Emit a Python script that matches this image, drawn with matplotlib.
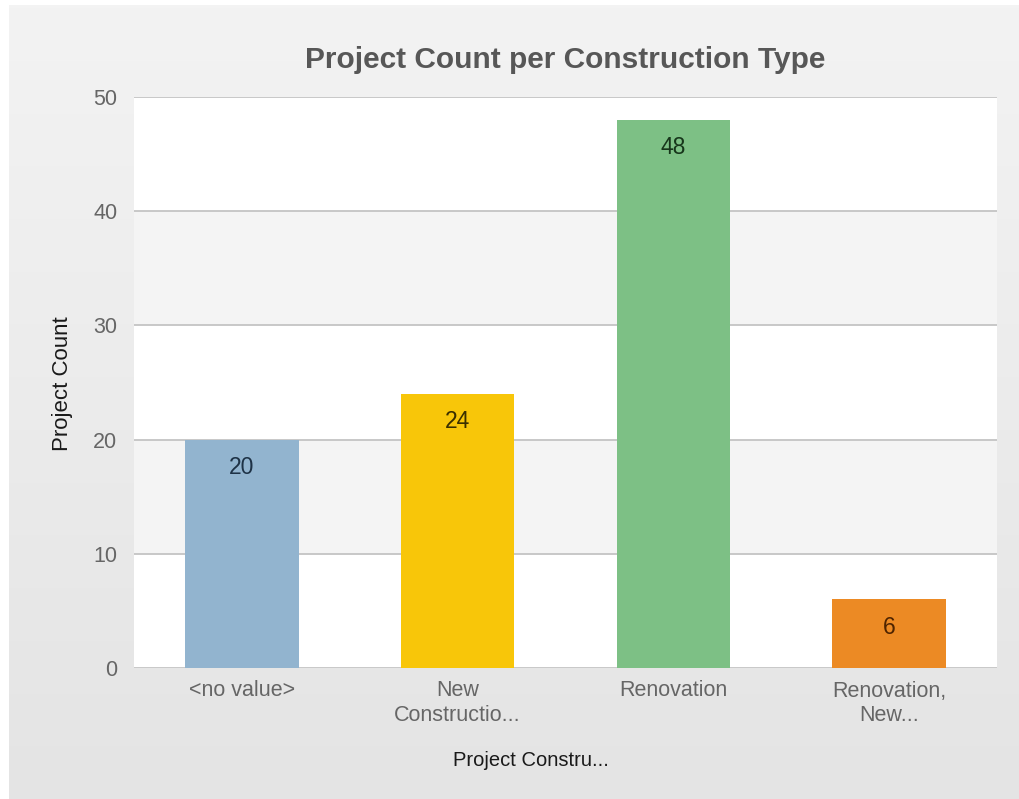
import numpy as np
import matplotlib
matplotlib.use("Agg")
import matplotlib.pyplot as plt
from matplotlib.colors import LinearSegmentedColormap

categories = ["<no value>", "New\nConstructio...", "Renovation", "Renovation,\nNew..."]
counts = [20, 24, 48, 6]
bar_colors = ["#92b4cf", "#f8c609", "#7dc085", "#ec8a24"]
label_colors = ["#1e3246", "#3a2f00", "#17361b", "#4f2400"]
yticks = [0, 10, 20, 30, 40, 50]
title = "Project Count per Construction Type"
xlabel = "Project Constru..."
ylabel = "Project Count"

plt.rcParams['font.family'] = ['Liberation Sans', 'DejaVu Sans']

W, H = 1020, 799
fig = plt.figure(figsize=(W / 100, H / 100), dpi=100)
fig.patch.set_facecolor("white")

# background panel with vertical gradient
bg = fig.add_axes([9 / W, 0, (W - 9) / W, (H - 5) / H], zorder=-5)
grad = np.linspace(0, 1, 256).reshape(-1, 1)
cmap = LinearSegmentedColormap.from_list("g", ["#f3f3f3", "#e4e4e4"])
bg.imshow(grad, aspect="auto", cmap=cmap, extent=[0, 1, 0, 1], origin="upper")
bg.set_axis_off()

left, right, top, bottom = 134, 997, 97, 668
ax = fig.add_axes([left / W, (H - bottom) / H, (right - left) / W, (bottom - top) / H])
ax.set_facecolor("white")
ax.set_xlim(-0.5, len(categories) - 0.5)
ax.set_ylim(0, 50)

for lo in (10, 30):
    ax.axhspan(lo, lo + 10, color="#f4f4f4", zorder=0, lw=0)
for t in yticks:
    ax.axhline(t, color="#c4c4c4", lw=1.3, zorder=1)

x = np.arange(len(categories))
ax.bar(x, counts, width=0.525, color=bar_colors, zorder=2)
for xi, v, c in zip(x, counts, label_colors):
    ax.annotate(str(v), (xi, v), xytext=(0, -28), textcoords="offset pixels",
                ha="center", va="center", fontsize=16.5, color=c, zorder=3)

for s in ax.spines.values():
    s.set_visible(False)
ax.set_yticks(yticks)
ax.set_yticklabels([str(t) for t in yticks])
ax.set_xticks(x)
ax.set_xticklabels(categories, linespacing=1.2)
ax.tick_params(axis="both", length=0, labelsize=15.5, labelcolor="#666666")
ax.tick_params(axis="y", pad=12)
ax.tick_params(axis="x", pad=9)

fig.text(565 / W, 1 - 60 / H, title, ha="center", va="center",
         fontsize=21.5, fontweight="bold", color="#575757")
fig.text(63 / W, 1 - 384 / H, ylabel, ha="center", va="center", rotation=90,
         fontsize=16, color="#1a1a1a")
fig.text(531 / W, 1 - 760 / H, xlabel, ha="center", va="center",
         fontsize=14.5, color="#1a1a1a")

fig.savefig("out.png", dpi=100, facecolor=fig.get_facecolor())
